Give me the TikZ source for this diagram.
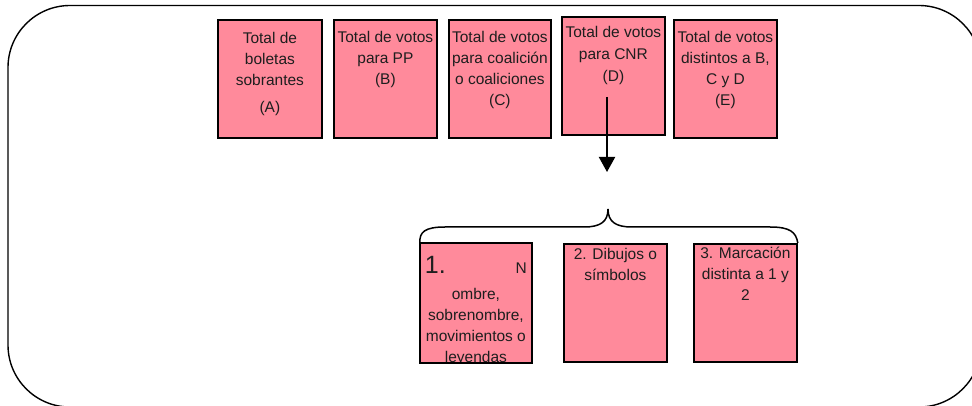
\documentclass[tikz,border=0pt]{standalone}
\usepackage{fontspec}
\setmainfont{Liberation Sans}
\usetikzlibrary{arrows.meta}
\definecolor{boxpink}{RGB}{255,138,155}
\definecolor{txtcol}{RGB}{30,30,30}
\begin{document}
\begin{tikzpicture}[x=1pt,y=-1pt,
  pinkbox/.style={draw=black, fill=boxpink, line width=1.8pt, inner sep=0pt, anchor=north west},
  boxtext/.style={anchor=base, align=center, inner sep=0pt, text=txtcol, font=\fontsize{15.5}{21}\selectfont},
  outline/.style={draw=black, line width=1.4pt, rounded corners=62pt}]
\useasboundingbox (0,0) rectangle (972,406);
\clip (0,0) rectangle (972,406);
\path[outline] (8,5.5) rectangle (981,407);
% top boxes
\node[pinkbox, minimum width=104pt, minimum height=118pt] (A) at (217,19) {};
\node[pinkbox, minimum width=103pt, minimum height=118pt] (B) at (333,19) {};
\node[pinkbox, minimum width=102pt, minimum height=118pt] (C) at (448,19) {};
\node[pinkbox, minimum width=103pt, minimum height=118pt] (D) at (561,16) {};
\node[pinkbox, minimum width=103pt, minimum height=118pt] (E) at (673,19) {};
\node[boxtext] (At) at ([yshift=-94pt]A.north) {Total de\\boletas\\sobrantes\\[6.5pt](A)};
\node[boxtext] (Bt) at ([yshift=-65.5pt]B.north) {Total de votos\\para PP\\(B)};
\node[boxtext] (Ct) at ([yshift=-87pt]C.north) {Total de votos\\para coalición\\o coaliciones\\(C)};
\node[boxtext, font=\fontsize{15.5}{22}\selectfont] (Dt) at ([yshift=-66pt]D.north) {Total de votos\\para CNR\\(D)};
\node[boxtext] (Et) at ([yshift=-87pt]E.north) {Total de votos\\distintos a B,\\C y D\\(E)};
% arrow
\coordinate (arrstart) at (607,97);
\coordinate (arrend) at (607,172);
\draw[line width=2pt, -{Triangle[width=16pt,length=15pt]}] (arrstart) -- (arrend);
% bottom boxes
\node[pinkbox, draw=none, minimum width=110pt, minimum height=118pt] (F) at (420,243) {};
\node[pinkbox, minimum width=103pt, minimum height=118pt] (G) at (563,243) {};
\node[pinkbox, minimum width=103pt, minimum height=118pt] (H) at (693,243) {};
\begin{scope}
\clip (F.north west) rectangle (F.south east);
\node[boxtext, font=\fontsize{15.5}{20.8}\selectfont] (Ft) at ([yshift=-119pt]F.north) {\makebox[102pt]{\fontsize{25}{25}\selectfont 1.\hfill\fontsize{15.5}{20.8}\selectfont N}\\[5pt]ombre,\\sobrenombre,\\movimientos o\\leyendas};
\end{scope}
\draw[line width=1.8pt] (F.north west) rectangle (F.south east);
\node[boxtext] (Gt) at ([yshift=-37.5pt]G.north) {2. Dibujos o\\símbolos};
\node[boxtext] (Ht) at ([yshift=-57.5pt]H.north) {3. Marcación\\distinta a 1 y\\2};
% brace
\draw[line width=1.5pt] (F.north west) .. controls (419,232) and (425,227) .. (445,227) -- (584,227)
  .. controls (600,227) and (608,222) .. (608,209)
  .. controls (608,222) and (616,227) .. (632,227) -- (770,227)
  .. controls (790,227) and (796,232) .. (H.north east);
\end{tikzpicture}
\end{document}
